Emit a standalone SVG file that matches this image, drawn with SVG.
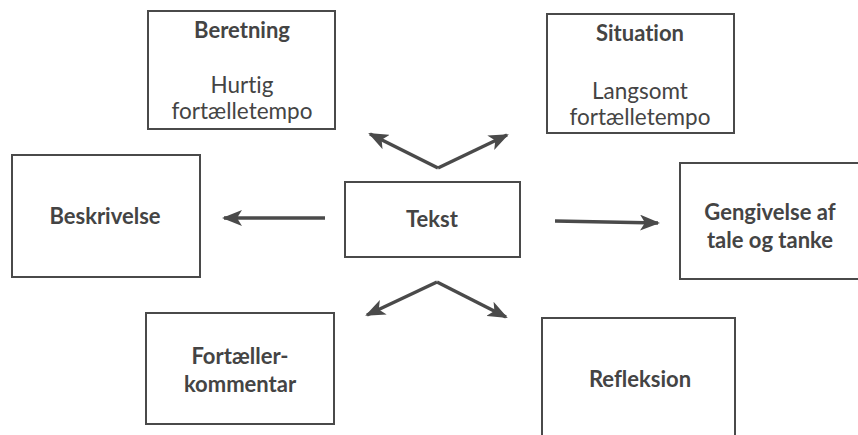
<svg xmlns="http://www.w3.org/2000/svg" width="858" height="435" viewBox="0 0 858 435">
<defs>
<style>
.box{fill:#fff;stroke:#4a4a4a;stroke-width:2}
.t{font-family:Lato,"Open Sans",sans-serif;fill:#444;text-anchor:middle;font-variant-ligatures:none}
.b{font-weight:bold;font-size:22px}
.r{font-size:22.5px}
.c{fill:none;stroke:#4a4a4a;stroke-width:3.5}
</style>
<marker id="a2" viewBox="0 0 20 16" refX="18" refY="8" markerWidth="20" markerHeight="16" markerUnits="userSpaceOnUse" orient="auto">
<path d="M0,0 L20,8 L0,16 L5,8 Z" fill="#4a4a4a"/>
</marker>
</defs>
<rect width="858" height="435" fill="#fff"/>
<g id="beretning"><rect class="box" x="148" y="11" width="187" height="118"/>
<text class="t b" x="242" y="38">Beretning</text>
<text class="t r" x="242" y="93">Hurtig</text>
<text class="t r" x="242" y="119">fortælletempo</text></g>
<g id="situation"><rect class="box" x="547" y="14" width="187" height="119"/>
<text class="t b" x="640" y="41">Situation</text>
<text class="t r" x="640" y="99">Langsomt</text>
<text class="t r" x="640" y="125">fortælletempo</text></g>
<g id="tekst"><rect class="box" x="345" y="182" width="175" height="75"/>
<text class="t b" x="432" y="227">Tekst</text></g>
<g id="beskrivelse"><rect class="box" x="12" y="155" width="188" height="122"/>
<text class="t b" x="105" y="224">Beskrivelse</text></g>
<g id="gengivelse"><rect class="box" x="680" y="163" width="190" height="116"/>
<text class="t b" x="770" y="220">Gengivelse af</text>
<text class="t b" x="770" y="248">tale og tanke</text></g>
<g id="fortaeller"><rect class="box" x="146" y="313" width="188" height="111"/>
<text class="t b" x="240" y="364">Fortæller-</text>
<text class="t b" x="240" y="392">kommentar</text></g>
<g id="refleksion"><rect class="box" x="542" y="318" width="193" height="130"/>
<text class="t b" x="640" y="387">Refleksion</text></g>
<g id="connectors">
<path class="c" d="M438,168 L370,134" marker-end="url(#a2)"/>
<path class="c" d="M438,168 L507,135" marker-end="url(#a2)"/>
<path class="c" d="M325,218 L224,218" marker-end="url(#a2)"/>
<path class="c" d="M555,221 L658,223" marker-end="url(#a2)"/>
<path class="c" d="M437,282 L367,315" marker-end="url(#a2)"/>
<path class="c" d="M437,282 L506,317" marker-end="url(#a2)"/>
</g>
</svg>
